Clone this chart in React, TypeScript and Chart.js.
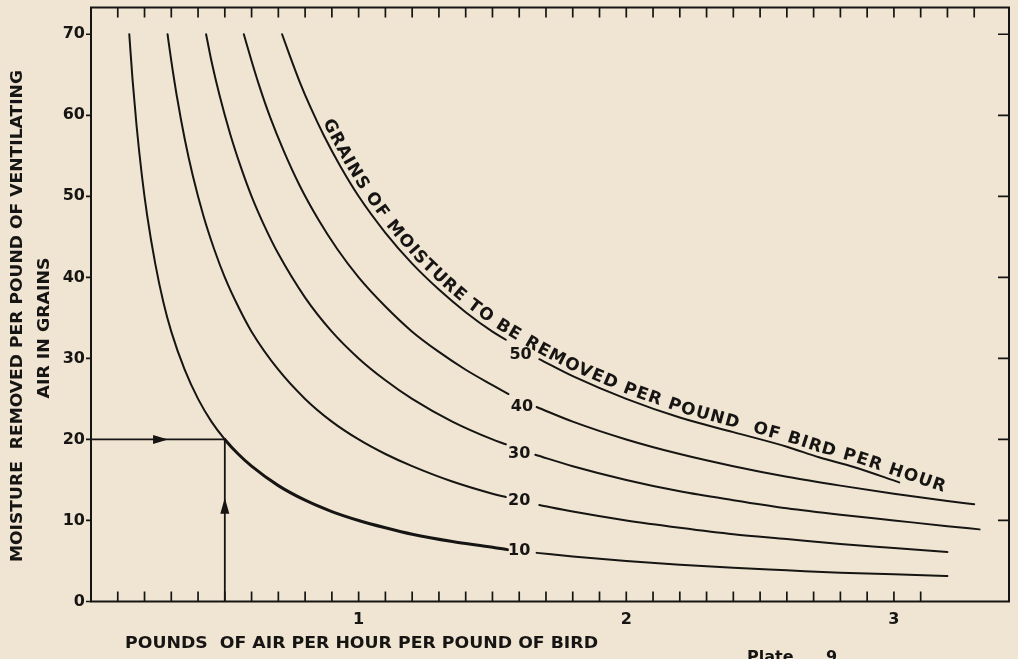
import React, { useEffect, useRef } from 'react';
import { Chart, registerables } from 'chart.js';

Chart.register(...registerables);

const W = 1018;
const H = 659;
const BG = '#efe5d2';
const INK = '#171513';
const FONT = '"DejaVu Sans", "Liberation Sans", sans-serif';

type Pt = [number, number | null];

// Curves: grains of moisture removed per pound of air vs pounds of air per hour per pound of bird
const curve10: Pt[] = [
  [0.143, 70], [0.155, 64.5], [0.17, 58.8], [0.19, 52.6], [0.21, 47.6], [0.24, 41.7], [0.27, 37],
  [0.3, 33.3], [0.35, 28.6], [0.4, 25], [0.45, 22.2], [0.5, 20], [0.55, 18.2], [0.6, 16.7],
  [0.7, 14.3], [0.8, 12.5], [0.9, 11.1], [1.0, 10], [1.1, 9.1], [1.2, 8.3], [1.35, 7.4],
  [1.5, 6.7], [1.556, 6.4], [1.6, null], [1.665, 6.0], [1.8, 5.55], [2.0, 5.0], [2.2, 4.55],
  [2.4, 4.15], [2.6, 3.85], [2.8, 3.55], [3.0, 3.35], [3.2, 3.15],
];
const curve20: Pt[] = [
  [0.286, 70], [0.3, 66.7], [0.32, 62.5], [0.35, 57.1], [0.38, 52.6], [0.42, 47.6], [0.46, 43.5],
  [0.5, 40], [0.55, 36.4], [0.6, 33.3], [0.7, 28.6], [0.8, 25], [0.9, 22.2], [1.0, 20],
  [1.1, 18.2], [1.2, 16.7], [1.35, 14.8], [1.5, 13.3], [1.55, 12.9], [1.6, null], [1.675, 11.9],
  [1.8, 11.1], [2.0, 10], [2.2, 9.1], [2.4, 8.3], [2.6, 7.7], [2.8, 7.1], [3.0, 6.6], [3.2, 6.1],
];
const curve30: Pt[] = [
  [0.43, 70], [0.45, 66.7], [0.48, 62.5], [0.52, 57.7], [0.56, 53.6], [0.6, 50], [0.65, 46.2],
  [0.7, 42.9], [0.8, 37.5], [0.9, 33.3], [1.0, 30], [1.1, 27.3], [1.2, 25], [1.35, 22.2],
  [1.5, 20], [1.55, 19.4], [1.6, null], [1.66, 18.1], [1.8, 16.7], [2.0, 15], [2.2, 13.6],
  [2.4, 12.5], [2.6, 11.5], [2.8, 10.7], [3.0, 10], [3.2, 9.3], [3.32, 8.9],
];
const curve40: Pt[] = [
  [0.571, 70], [0.6, 66.7], [0.63, 63.5], [0.67, 59.7], [0.72, 55.6], [0.78, 51.3], [0.85, 47.1],
  [0.92, 43.5], [1.0, 40], [1.1, 36.4], [1.2, 33.3], [1.3, 30.8], [1.4, 28.6], [1.5, 26.7],
  [1.56, 25.6], [1.6, null], [1.665, 24], [1.8, 22.2], [2.0, 20], [2.2, 18.2], [2.4, 16.7],
  [2.6, 15.4], [2.8, 14.3], [3.0, 13.3], [3.2, 12.4], [3.3, 12.0],
];
const curve50: Pt[] = [
  [0.714, 70], [0.74, 67.6], [0.78, 64.1], [0.82, 61], [0.87, 57.5], [0.93, 53.8], [1.0, 50],
  [1.1, 45.5], [1.2, 41.7], [1.3, 38.5], [1.4, 35.7], [1.5, 33.3], [1.55, 32.3], [1.6, null],
  [1.675, 29.9], [1.8, 27.8], [2.0, 25], [2.2, 22.7], [2.4, 20.9], [2.6, 19.1], [2.72, 17.8],
  [2.85, 16.6], [3.02, 14.7],
];

const curves: Pt[][] = [curve10, curve20, curve30, curve40, curve50];
const curveLabels = ['10', '20', '30', '40', '50'];
const curveLabelX = [1.6, 1.6, 1.6, 1.61, 1.605];
const curveLabelY = [6.2, 12.4, 18.2, 24.0, 30.4];

// Guide lines with arrows (example reading: 20 grains at 0.5 lb of air)
const guideH: Pt[] = [[0, 20], [0.5, 20]];
const guideV: Pt[] = [[0.5, 0], [0.5, 20]];
const arrowRightTip = [0.288, 20];
const arrowUpTip = [0.5, 12.8];

const yTickValues = [0, 10, 20, 30, 40, 50, 60, 70];
const xTickValues = [1, 2, 3];
const X_MIN = 0;
const X_MAX = 3.43;
const Y_MIN = 0;
const Y_MAX = 73.3;
const topMinorTicks = Array.from({ length: 33 }, (_, i) => +(0.1 * (i + 1)).toFixed(1));
const bottomMinorTicks = Array.from({ length: 31 }, (_, i) => +(0.1 * (i + 1)).toFixed(1));

const curveCaption = 'GRAINS OF MOISTURE TO BE REMOVED PER POUND  OF BIRD PER HOUR';
const captionStartX = 0.85;
const yTitle1 = 'MOISTURE  REMOVED PER POUND OF VENTILATING';
const yTitle2 = 'AIR IN GRAINS';
const xTitle = 'POUNDS  OF AIR PER HOUR PER POUND OF BIRD';
const plateWord = 'Plate';
const plateNum = '9';

function toXY(arr: Pt[]) {
  return arr.map(([x, y]) => ({ x, y }));
}

function fitText(ctx: CanvasRenderingContext2D, text: string, cx: number, cy: number, width: number, angle: number, font: string) {
  ctx.save();
  ctx.font = font;
  ctx.translate(cx, cy);
  ctx.rotate(angle);
  const w = ctx.measureText(text).width;
  ctx.scale(width / w, 1);
  ctx.textAlign = 'center';
  ctx.textBaseline = 'middle';
  ctx.fillText(text, 0, 0);
  ctx.restore();
}

const decorPlugin = {
  id: 'decor',
  afterDraw(chart: any) {
    const ctx: CanvasRenderingContext2D = chart.ctx;
    const { left, right, top, bottom } = chart.chartArea;
    const xs = chart.scales.x;
    const ys = chart.scales.y;
    ctx.save();
    ctx.strokeStyle = INK;
    ctx.fillStyle = INK;

    // frame
    ctx.lineWidth = 2;
    ctx.beginPath();
    ctx.moveTo(left, top);
    ctx.lineTo(right, top);
    ctx.lineTo(right, bottom);
    ctx.lineTo(left, bottom);
    ctx.closePath();
    ctx.stroke();

    // tick marks
    ctx.lineWidth = 1.7;
    ctx.beginPath();
    for (const v of yTickValues) {
      const py = ys.getPixelForValue(v);
      ctx.moveTo(left - 5, py);
      ctx.lineTo(left, py);
      if (v > 0) {
        ctx.moveTo(right, py);
        ctx.lineTo(right - 11, py);
      }
    }
    for (const v of topMinorTicks) {
      const px = xs.getPixelForValue(v);
      ctx.moveTo(px, top);
      ctx.lineTo(px, top + 10);
    }
    for (const v of bottomMinorTicks) {
      const px = xs.getPixelForValue(v);
      ctx.moveTo(px, bottom);
      ctx.lineTo(px, bottom - 10);
    }
    ctx.stroke();

    // arrowheads
    const ar = { x: xs.getPixelForValue(arrowRightTip[0]), y: ys.getPixelForValue(arrowRightTip[1]) };
    ctx.beginPath();
    ctx.moveTo(ar.x, ar.y);
    ctx.lineTo(ar.x - 15, ar.y - 4.5);
    ctx.lineTo(ar.x - 15, ar.y + 4.5);
    ctx.closePath();
    ctx.fill();
    const au = { x: xs.getPixelForValue(arrowUpTip[0]), y: ys.getPixelForValue(arrowUpTip[1]) };
    ctx.beginPath();
    ctx.moveTo(au.x, au.y);
    ctx.lineTo(au.x - 4.5, au.y + 16);
    ctx.lineTo(au.x + 4.5, au.y + 16);
    ctx.closePath();
    ctx.fill();

    // curve labels
    ctx.font = `bold 16px ${FONT}`;
    ctx.textAlign = 'center';
    ctx.textBaseline = 'middle';
    curveLabels.forEach((t, i) => {
      ctx.fillText(t, xs.getPixelForValue(curveLabelX[i]), ys.getPixelForValue(curveLabelY[i]));
    });

    // caption along the 50 curve
    const pts = curve50
      .filter((p) => p[1] !== null)
      .map((p) => ({ x: xs.getPixelForValue(p[0]), y: ys.getPixelForValue(p[1] as number) }));
    const n = pts.length;
    const dx = pts[n - 1].x - pts[n - 2].x;
    const dy = pts[n - 1].y - pts[n - 2].y;
    const dl = Math.hypot(dx, dy);
    pts.push({ x: pts[n - 1].x + (dx / dl) * 80, y: pts[n - 1].y + (dy / dl) * 80 });
    const cum: number[] = [0];
    for (let i = 1; i < pts.length; i++) cum.push(cum[i - 1] + Math.hypot(pts[i].x - pts[i - 1].x, pts[i].y - pts[i - 1].y));
    const curveLen = cum[n - 1];
    const at = (s: number) => {
      let i = 1;
      while (i < pts.length - 1 && cum[i] < s) i++;
      const t = (s - cum[i - 1]) / (cum[i] - cum[i - 1]);
      return { x: pts[i - 1].x + (pts[i].x - pts[i - 1].x) * t, y: pts[i - 1].y + (pts[i].y - pts[i - 1].y) * t };
    };
    const startPx = xs.getPixelForValue(captionStartX);
    let sStart = 0;
    for (let i = 1; i < pts.length; i++) {
      if (pts[i].x >= startPx) {
        const t = (startPx - pts[i - 1].x) / (pts[i].x - pts[i - 1].x);
        sStart = cum[i - 1] + (cum[i] - cum[i - 1]) * t;
        break;
      }
    }
    const sEnd = curveLen + 45;
    ctx.font = `bold 17px ${FONT}`;
    const chars = curveCaption.split('');
    const widths = chars.map((c) => ctx.measureText(c).width);
    const natural = widths.reduce((a, b) => a + b, 0);
    const extra = (sEnd - sStart - natural) / (chars.length - 1);
    let acc = sStart;
    ctx.textAlign = 'center';
    ctx.textBaseline = 'alphabetic';
    chars.forEach((c, i) => {
      const s = acc + widths[i] / 2;
      acc += widths[i] + extra;
      if (c === ' ') return;
      const p = at(s);
      const pa = at(Math.max(0, s - 8));
      const pb = at(s + 8);
      const ang = Math.atan2(pb.y - pa.y, pb.x - pa.x);
      const off = 5;
      ctx.save();
      ctx.translate(p.x + Math.sin(ang) * off, p.y - Math.cos(ang) * off);
      ctx.rotate(ang);
      ctx.fillText(c, 0, 0);
      ctx.restore();
    });

    // axis titles
    const titleFont = `bold 16px ${FONT}`;
    fitText(ctx, yTitle1, 18, 316, 492, -Math.PI / 2, titleFont);
    fitText(ctx, yTitle2, 45, 328, 141, -Math.PI / 2, titleFont);
    fitText(ctx, xTitle, (125 + 598) / 2, 644, 598 - 125, 0, titleFont);

    ctx.font = `bold 16px ${FONT}`;
    ctx.textAlign = 'left';
    ctx.textBaseline = 'top';
    ctx.fillText(plateWord, 747, 650);
    ctx.fillText(plateNum, 826, 650);

    ctx.restore();
  },
};

export default function App() {
  const ref = useRef<HTMLCanvasElement>(null);
  useEffect(() => {
    if (!ref.current) return;
    const tickFont = { family: FONT, size: 16, weight: 'bold' as const };
    const lineDs = (data: Pt[], width: number, extra: any = {}) => ({
      data: toXY(data),
      borderColor: INK,
      borderWidth: width,
      pointRadius: 0,
      fill: false,
      spanGaps: false,
      borderCapStyle: 'round',
      cubicInterpolationMode: 'monotone',
      ...extra,
    });
    const chart = new Chart(ref.current, {
      type: 'line',
      data: {
        datasets: [
          lineDs(curves[0], 2, {
            segment: {
              borderWidth: (c: any) => (c.p0.parsed.x >= 0.5 && c.p1.parsed.x <= 1.56 ? 3 : 2),
            },
          }),
          lineDs(curves[1], 2),
          lineDs(curves[2], 2),
          lineDs(curves[3], 2),
          lineDs(curves[4], 2),
          lineDs(guideH, 1.8, { cubicInterpolationMode: 'default', tension: 0 }),
          lineDs(guideV, 1.8, { cubicInterpolationMode: 'default', tension: 0 }),
        ] as any,
      },
      options: {
        animation: false,
        responsive: false,
        maintainAspectRatio: false,
        devicePixelRatio: 1,
        layout: { padding: { top: 7.5, right: 9, left: 0, bottom: 0 } },
        plugins: {
          legend: { display: false },
          tooltip: { enabled: false },
          title: { display: false },
        },
        scales: {
          x: {
            type: 'linear',
            min: X_MIN,
            max: X_MAX,
            grid: { display: false, drawTicks: false },
            border: { display: false },
            afterBuildTicks: (s: any) => {
              s.ticks = xTickValues.map((v) => ({ value: v }));
            },
            afterFit: (s: any) => {
              s.height = H - 601.5;
              s.paddingLeft = 0;
              s.paddingRight = 0;
            },
            ticks: {
              padding: 9,
              color: INK,
              font: tickFont,
              maxRotation: 0,
              autoSkip: false,
              callback: (v: any) => String(v),
            },
          },
          y: {
            type: 'linear',
            min: Y_MIN,
            max: Y_MAX,
            grid: { display: false, drawTicks: false },
            border: { display: false },
            afterBuildTicks: (s: any) => {
              s.ticks = yTickValues.map((v) => ({ value: v }));
            },
            afterFit: (s: any) => {
              s.width = 91;
              s.paddingTop = 0;
              s.paddingBottom = 0;
            },
            ticks: {
              padding: 6,
              color: INK,
              font: tickFont,
              autoSkip: false,
              callback: (v: any) => String(v),
            },
          },
        },
      } as any,
      plugins: [decorPlugin],
    });
    return () => chart.destroy();
  }, []);

  return (
    <div style={{ position: 'absolute', left: 0, top: 0, width: W, height: H, background: BG, overflow: 'hidden' }}>
      <canvas ref={ref} width={W} height={H} style={{ display: 'block', width: W, height: H }} />
    </div>
  );
}
